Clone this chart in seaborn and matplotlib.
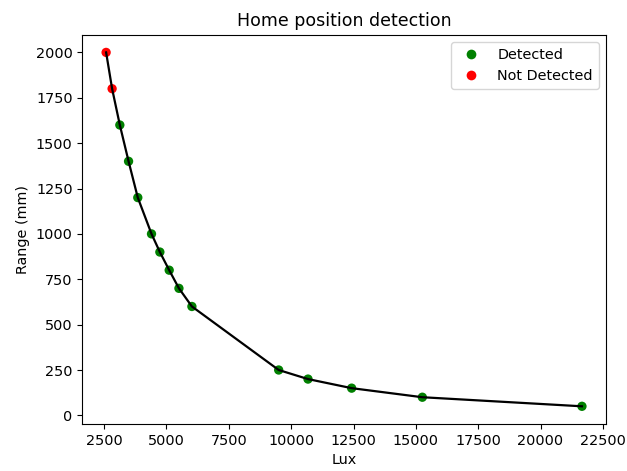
import numpy as np
import pandas as pd
import matplotlib
matplotlib.use("Agg")
import matplotlib.pyplot as plt
import seaborn as sns

# readings: lux level vs range, first two were missed
lux = [2580, 2820, 3130, 3480, 3850, 4400, 4735, 5110, 5500, 6020,
       9500, 10675, 12425, 15260, 21660]
range_mm = [2000, 1800, 1600, 1400, 1200, 1000, 900, 800, 700, 600,
            250, 200, 150, 100, 50]
status = ["Not Detected", "Not Detected"] + ["Detected"] * 13

df = pd.DataFrame({"Lux": lux, "Range": range_mm, "Status": status})

plt.rcParams["font.size"] = 10.4

fig = plt.figure(figsize=(6.27, 4.71), dpi=100)
ax = fig.add_axes([0.1313, 0.0998, 0.8348, 0.8265])

sns.scatterplot(data=df, x="Lux", y="Range", hue="Status",
                hue_order=["Detected", "Not Detected"],
                palette={"Detected": "green", "Not Detected": "red"},
                s=45, linewidth=0, ax=ax)
sns.lineplot(data=df, x="Lux", y="Range", color="black", sort=False,
             estimator=None, linewidth=1.6, ax=ax)

handles, labels = ax.get_legend_handles_labels()
for h in handles[:2]:
    h.set_markersize(7)
ax.legend(handles[:2], labels[:2], loc="upper right")

ax.set_title("Home position detection")
ax.set_xlabel("Lux")
ax.set_ylabel("Range (mm)")

fig.savefig("out.png", dpi=100)
